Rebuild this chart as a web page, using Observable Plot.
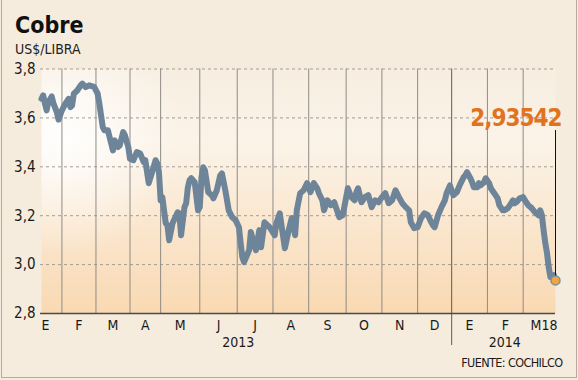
<!DOCTYPE html>
<html>
<head>
<meta charset="utf-8">
<script src="https://cdn.jsdelivr.net/npm/d3@7"></script>
<script src="https://cdn.jsdelivr.net/npm/@observablehq/plot@0.6"></script>
<style>
html, body { margin: 0; padding: 0; background: #f5ecde; }
#chart { position: relative; width: 578px; height: 380px; overflow: hidden; background: #f5ecde;
  font-family: "DejaVu Sans Condensed", "DejaVu Sans", sans-serif; font-stretch: condensed; }
#border { position: absolute; left: 1px; top: -2px; width: 576px; height: 380px; border: 1px solid #b9aa9b; box-sizing: border-box; pointer-events: none; }
.title { position: absolute; left: 15px; top: 13.5px; font-size: 23px; line-height: 23px; font-weight: bold; color: #111; }
.sub { position: absolute; left: 15px; top: 42px; font-size: 14px; line-height: 14px; color: #222; }
#plot { position: absolute; left: 0; top: 56px; }
</style>
</head>
<body>
<div id="chart">
  <div class="title">Cobre</div>
  <div class="sub">US$/LIBRA</div>
  <div id="plot"></div>
  <div id="border"></div>
</div>
<script>
// ---- data (trading-session index and price, US$/lb) ----
const sessions = [0,1,2,3,4,6,7,9,10,12,14,16,17,18,19,21,23,24,26,28,30,31,33,34,35,36,37,39,40,42,43,45,46,48,49,51,52,54,56,58,60,61,63,65,67,68,69,70,71,73,74,75,77,80,81,82,84,85,86,87,88,90,92,93,94,95,96,98,100,101,103,105,106,108,110,112,114,116,117,118,119,122,123,124,126,128,129,131,134,137,138,140,141,143,145,147,149,150,152,154,156,158,160,162,163,165,166,168,170,172,173,175,177,180,182,184,185,186,188,190,192,194,196,198,200,202,204,206,208,210,212,214,216,217,219,221,223,225,227,229,230,231,233,235,237,238,240,242,244,246,248,249,250,252,253,254,256,257,258,260,261,263,264,266,268,269,271,272,274,276,277,278,279,281,283,284,286,288,290,292,293,294,295,296,297,298,299,301,302];
const prices = [3.678,3.692,3.659,3.631,3.664,3.688,3.659,3.624,3.593,3.631,3.658,3.678,3.644,3.651,3.699,3.712,3.733,3.740,3.726,3.733,3.729,3.726,3.699,3.658,3.610,3.562,3.549,3.549,3.522,3.467,3.508,3.481,3.488,3.542,3.529,3.481,3.433,3.427,3.460,3.454,3.420,3.427,3.333,3.378,3.427,3.414,3.378,3.263,3.276,3.169,3.161,3.100,3.169,3.214,3.210,3.120,3.235,3.251,3.316,3.345,3.353,3.337,3.222,3.235,3.357,3.398,3.386,3.296,3.284,3.271,3.304,3.365,3.373,3.304,3.222,3.194,3.182,3.153,3.088,3.031,3.010,3.059,3.133,3.108,3.059,3.141,3.071,3.173,3.153,3.120,3.169,3.210,3.161,3.067,3.133,3.190,3.120,3.222,3.292,3.304,3.333,3.296,3.333,3.312,3.292,3.263,3.222,3.263,3.243,3.255,3.235,3.194,3.202,3.312,3.276,3.263,3.296,3.312,3.255,3.276,3.284,3.235,3.263,3.255,3.276,3.292,3.251,3.263,3.304,3.276,3.251,3.235,3.222,3.173,3.149,3.153,3.190,3.210,3.202,3.173,3.161,3.153,3.202,3.235,3.263,3.292,3.324,3.284,3.296,3.329,3.357,3.365,3.378,3.353,3.337,3.316,3.316,3.333,3.324,3.337,3.353,3.333,3.312,3.292,3.271,3.243,3.222,3.222,3.231,3.251,3.263,3.251,3.255,3.271,3.276,3.263,3.243,3.231,3.214,3.202,3.222,3.202,3.141,3.088,3.047,2.990,2.949,2.957,2.93542];
const monthStarts = [0,12,32,52,70,93,115,136,157,179,200,221,241,262,283];
const lastSession = 302;
const monthLabels = ["E","F","M","A","M","J","J","A","S","O","N","D","E","F","M18"];
const monthYears = [2013,2013,2013,2013,2013,2013,2013,2013,2013,2013,2013,2013,2014,2014,2014];
const yearLabels = [2013, 2014];
const yTicks = [2.8, 3.0, 3.2, 3.4, 3.6, 3.8];
const lastLabel = "2,93542";
const sourceText = "FUENTE: COCHILCO";

// ---- derived tables ----
const series = sessions.map((s, i) => ({s, v: prices[i]}));
const last = series[series.length - 1];
const bounds = [...monthStarts, lastSession];
const months = monthLabels.map((label, i) => ({label, year: monthYears[i], start: bounds[i], end: bounds[i + 1], mid: (bounds[i] + bounds[i + 1]) / 2}));
const years = yearLabels.map(y => ({label: String(y), x: d3.mean(months.filter(m => m.year === y), m => m.mid)}));
const yearBreak = monthStarts[monthYears.indexOf(2014)];
const fmt = d => d.toFixed(1).replace(".", ",");
const FONT = '"DejaVu Sans Condensed", "DejaVu Sans", sans-serif';
const LINE = "#6d8499";

const plot = Plot.plot({
  width: 578, height: 324,
  marginLeft: 41, marginRight: 23, marginTop: 12.5, marginBottom: 67,
  x: {domain: [0, lastSession], axis: null},
  y: {domain: [2.8, 3.8], axis: null},
  style: {background: "transparent", fontFamily: FONT, overflow: "visible", color: "#1a1a1a"},
  marks: [
    Plot.frame({fill: "url(#bgFill)", stroke: "none"}),
    Plot.frame({fill: "url(#bgGlow)", stroke: "none"}),
    Plot.ruleY(yTicks.filter(d => d > 2.8), {x1: 0, x2: lastSession, stroke: "#a39d95", strokeDasharray: "3,3", insetLeft: -1}),
    Plot.ruleX(monthStarts.filter(d => d > 0 && d !== yearBreak), {y1: 3.8, y2: 2.8, stroke: "#8f8b86"}),
    Plot.ruleX([yearBreak], {y1: 3.8, y2: 2.8, stroke: "#5f5a55", insetBottom: -32}),
    Plot.ruleY([2.8], {x1: 0, x2: lastSession, stroke: "#4a4a4a", strokeWidth: 1.6, insetLeft: -1}),
    Plot.line(series, {x: "s", y: "v", stroke: LINE, strokeWidth: 6, strokeLinejoin: "round", strokeLinecap: "round"}),
    Plot.ruleX([last], {x: "s", y1: 3.8, y2: "v", stroke: "#111", strokeWidth: 1, insetTop: 61.5}),
    Plot.dot([last], {x: "s", y: "v", r: 4.5, fill: "#f2a53c", stroke: "#7d8fa0", strokeWidth: 1.5}),
    Plot.text([last], {x: "s", y: 3.8, text: () => lastLabel, textAnchor: "end", lineAnchor: "bottom", dx: 6, dy: 56.5, fontSize: 24, fontWeight: "bold", fill: "#e2731e", fontFamily: FONT}),
    Plot.text(yTicks, {x: 0, y: d => d, text: fmt, textAnchor: "end", dx: -6, fontSize: 15, fill: "#1a1a1a", fontFamily: FONT}),
    Plot.text(months.slice(0, 1), {x: "start", y: 2.8, text: "label", textAnchor: "start", lineAnchor: "bottom", dy: 16.5, fontSize: 14, fill: "#1a1a1a", fontFamily: FONT}),
    Plot.text(months.slice(1, -1), {x: "mid", y: 2.8, text: "label", lineAnchor: "bottom", dy: 16.5, fontSize: 14, fill: "#1a1a1a", fontFamily: FONT}),
    Plot.text(months.slice(-1), {x: "end", y: 2.8, text: "label", textAnchor: "end", lineAnchor: "bottom", dx: 2, dy: 16.5, fontSize: 14, fill: "#1a1a1a", fontFamily: FONT}),
    Plot.text(years, {x: "x", y: 2.8, text: "label", lineAnchor: "bottom", dy: 33.5, fontSize: 14, fill: "#1a1a1a", fontFamily: FONT}),
    Plot.text([sourceText], {x: lastSession, y: 2.8, text: d => d, textAnchor: "end", lineAnchor: "bottom", dx: 7, dy: 53, fontSize: 12.5, fill: "#1a1a1a", fontFamily: FONT})
  ]
});

// gradients for the plot background
const svg = d3.select(plot);
const defs = svg.insert("defs", ":first-child");
const lg = defs.append("linearGradient").attr("id", "bgFill").attr("x1", 0).attr("y1", 0).attr("x2", 0).attr("y2", 1);
[[0, "#f7eee1"], [0.3, "#fbf3e8"], [1, "#f9d9b2"]].forEach(([o, c]) => lg.append("stop").attr("offset", o).attr("stop-color", c));
const rg = defs.append("radialGradient").attr("id", "bgGlow").attr("gradientUnits", "userSpaceOnUse").attr("cx", 62).attr("cy", 80).attr("r", 120);
[[0, 0.95], [0.45, 0.5], [1, 0]].forEach(([o, a]) => rg.append("stop").attr("offset", o).attr("stop-color", "#ffffff").attr("stop-opacity", a));
svg.selectAll("text").filter(function () { return this.textContent === sourceText; }).style("letter-spacing", "-0.6px");
svg.selectAll("text").filter(function () { return this.textContent === lastLabel; }).style("letter-spacing", "-1px");

document.getElementById("plot").appendChild(plot);
</script>
</body>
</html>
